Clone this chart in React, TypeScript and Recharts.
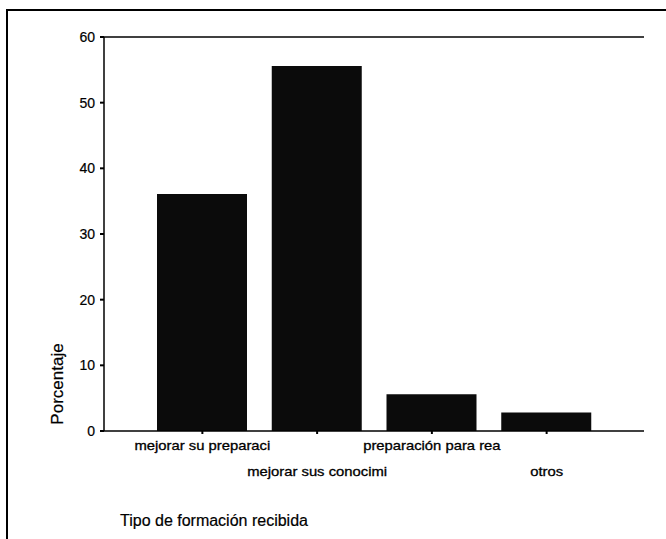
import React from "react";
import { BarChart, Bar, XAxis, YAxis, ReferenceLine } from "recharts";

const categories = [
  "mejorar su preparaci",
  "mejorar sus conocimi",
  "preparación para rea",
  "otros",
];
const percentages = [36.1, 55.6, 5.6, 2.8];
const yTicks = [0, 10, 20, 30, 40, 50, 60];
const yTitle = "Porcentaje";
const xTitle = "Tipo de formación recibida";

const data = categories.map((name, i) => ({ name, value: percentages[i] }));

const FONT = "'Liberation Sans', Arial, sans-serif";

const XTick = (props: any) => {
  const { x, y, payload, index } = props;
  const yy = y + (index % 2 === 1 ? 40 : 14);
  return (
    <text
      x={x}
      y={yy}
      textAnchor="middle"
      fontSize={13}
      fontFamily={FONT}
      fill="#000"
      stroke="#000"
      strokeWidth={0.3}
      transform={`translate(${x},0) scale(1.14,1) translate(${-x},0)`}
    >
      {payload.value}
    </text>
  );
};

const YLabel = (props: any) => {
  const vb = props.viewBox || {};
  const cx = 57;
  const cy = (vb.y || 0) + (vb.height || 0) - 47;
  return (
    <text
      x={cx}
      y={cy}
      textAnchor="middle"
      dominantBaseline="central"
      fontSize={17}
      fontFamily={FONT}
      fill="#000"
      stroke="#000"
      strokeWidth={0.2}
      transform={`rotate(-90, ${cx}, ${cy})`}
    >
      {yTitle}
    </text>
  );
};

const XLabel = (props: any) => {
  const vb = props.viewBox || {};
  return (
    <text
      x={120}
      y={(vb.y || 0) + 95}
      textAnchor="start"
      fontSize={16}
      fontFamily={FONT}
      fill="#000"
      stroke="#000"
      strokeWidth={0.2}
    >
      {xTitle}
    </text>
  );
};

export default function App() {
  return (
    <div
      style={{
        position: "absolute",
        left: 0,
        top: 0,
        width: 666,
        height: 539,
        overflow: "hidden",
        background: "#fff",
      }}
    >
      <div
        style={{
          position: "absolute",
          left: 6,
          top: 9,
          width: 700,
          height: 600,
          border: "2px solid #000",
        }}
      />
      <div style={{ position: "absolute", left: 0, top: 0 }}>
        <BarChart
          width={666}
          height={539}
          data={data}
          margin={{ top: 37, right: 22, bottom: 48, left: 64 }}
        >
          <XAxis
            dataKey="name"
            interval={0}
            padding={{ left: 41, right: 40 }}
            height={60}
            stroke="#000"
            tickSize={3}
            tickLine={{ stroke: "#000", strokeWidth: 2 }}
            axisLine={{ stroke: "#000", strokeWidth: 1.5 }}
            tick={<XTick />}
            label={<XLabel />}
          />
          <YAxis
            domain={[0, 60]}
            ticks={yTicks}
            width={40}
            stroke="#000"
            tickSize={4}
            tickMargin={5}
            tickLine={{ stroke: "#000", strokeWidth: 2 }}
            axisLine={{ stroke: "#000", strokeWidth: 1.5 }}
            tick={{ fontSize: 14, fontFamily: FONT, fill: "#000", stroke: "#000", strokeWidth: 0.2 }}
            label={<YLabel />}
          />
          <YAxis
            yAxisId="right"
            orientation="right"
            width={0}
            domain={[0, 60]}
            tick={false}
            tickLine={false}
            axisLine={{ stroke: "#000", strokeWidth: 1.5 }}
          />
          <ReferenceLine y={60} stroke="#000" strokeWidth={1.5} />
          <Bar
            dataKey="value"
            fill="#0b0b0b"
            barSize={90}
            isAnimationActive={false}
          />
        </BarChart>
      </div>
    </div>
  );
}
